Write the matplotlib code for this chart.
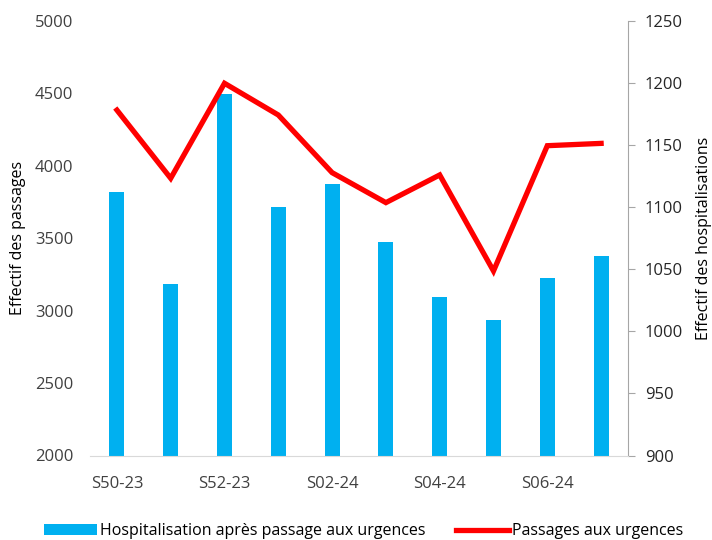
import numpy as np
import matplotlib.pyplot as plt

plt.rcParams['font.family'] = ['Open Sans', 'DejaVu Sans']

# weeks
semaines = ["S50-23", "S51-23", "S52-23", "S01-24", "S02-24",
            "S03-24", "S04-24", "S05-24", "S06-24", "S07-24"]

# hospitalisations after ER visit (right axis)
hospit = [1112, 1038, 1191, 1100, 1119, 1072, 1028, 1009, 1043, 1061]

# ER visits (left axis)
passages = [4385, 3914, 4570, 4351, 3953, 3746, 3937, 3274, 4139, 4155]

x = np.arange(len(semaines))

fig = plt.figure(figsize=(7.12, 5.4), dpi=100)
ax = fig.add_axes([90/712, (540-455.5)/540, (628-90)/712, (455.5-21)/540])
ax2 = ax.twinx()

# bars on the right axis, line on the left axis
ax2.bar(x, hospit, width=0.28, color="#00B0F0", zorder=2,
        label="Hospitalisation après passage aux urgences")
ax.plot(x, passages, color="#FF0000", lw=3.8, zorder=3,
        label="Passages aux urgences", solid_joinstyle="miter")
ax.set_zorder(ax2.get_zorder() + 1)
ax.patch.set_visible(False)

ax.set_xlim(-0.5, len(semaines) - 0.5)
ax.set_ylim(2000, 5000)
ax2.set_ylim(900, 1250)
ax.set_yticks(np.arange(2000, 5001, 500))
ax2.set_yticks(np.arange(900, 1251, 50))
ax.set_xticks(x[::2])
ax.set_xticklabels(semaines[::2])

for a in (ax, ax2):
    for s in ("top", "left", "right", "bottom"):
        a.spines[s].set_visible(False)
ax.spines["bottom"].set_visible(True)
ax.spines["bottom"].set_color("#D9D9D9")
ax2.spines["right"].set_visible(True)
ax2.spines["right"].set_color("#A6A6A6")

fs = 12
ax.tick_params(axis="y", length=0, pad=12, labelsize=fs, labelcolor="#404040")
ax.tick_params(axis="x", length=0, pad=15, labelsize=fs, labelcolor="#404040")
ax2.tick_params(axis="y", length=5, color="#A6A6A6", pad=7, labelsize=fs,
                labelcolor="#262626")

ax.set_ylabel("Effectif des passages", fontsize=11.5)
ax2.set_ylabel("Effectif des hospitalisations", fontsize=11.5)
ax.yaxis.set_label_coords((26 - 90) / 538, 0.5)
ax2.yaxis.set_label_coords((696 - 90) / 538, 0.5)

h1, l1 = ax2.get_legend_handles_labels()
h2, l2 = ax.get_legend_handles_labels()
fig.legend(h1 + h2, l1 + l2, loc="lower center", ncol=2, frameon=False,
           fontsize=11.5, bbox_to_anchor=(0.511, -0.025), columnspacing=1.9,
           handlelength=3.3, handletextpad=0.2)

fig.savefig("out.png", dpi=100)
